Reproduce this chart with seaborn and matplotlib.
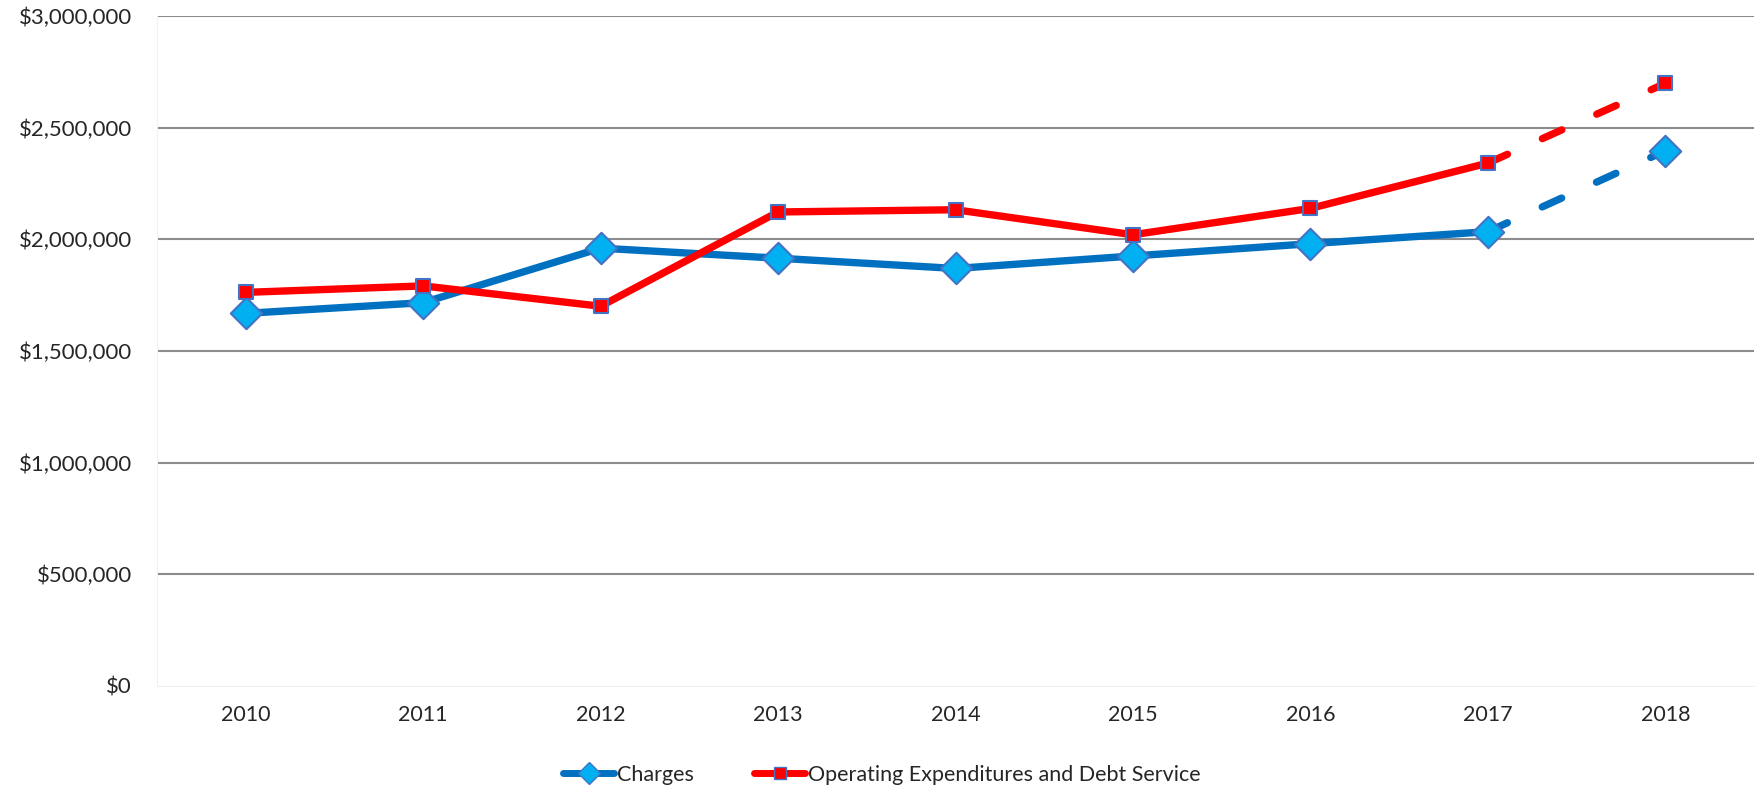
import matplotlib
matplotlib.use("Agg")
import matplotlib.pyplot as plt
from matplotlib.lines import Line2D
from matplotlib.ticker import FuncFormatter
import pandas as pd
import seaborn as sns

# data
years = [2010, 2011, 2012, 2013, 2014, 2015, 2016, 2017, 2018]
charges = [1668000, 1716000, 1960000, 1915000, 1869000, 1925000, 1980000, 2034000, 2396000]
opex = [1762000, 1791000, 1700000, 2122000, 2132000, 2020000, 2138000, 2341000, 2698000]
series_names = ["Charges", "Operating Expenditures and Debt Service"]
y_ticks = [0, 500000, 1000000, 1500000, 2000000, 2500000, 3000000]
n_actual = 8  # 2010-2017 actual, 2017-2018 projected (dashed)

blue = "#0070C0"
blue_fill = "#00B0F0"
red = "#FF0000"
edge = "#4472C4"

sns.set_style("white")
plt.rcParams["font.family"] = ["Lato", "DejaVu Sans"]

df = pd.DataFrame({"year": years, series_names[0]: charges, series_names[1]: opex})

fig, ax = plt.subplots(figsize=(17.63, 7.93), dpi=100)
fig.subplots_adjust(left=0.089, right=0.995, top=0.980, bottom=0.135)

styles = [
    (series_names[0], blue, "D", blue_fill, 16),
    (series_names[1], red, "s", red, 10.5),
]

for name, color, marker, fill, msize in styles:
    actual = df.iloc[:n_actual]
    proj = df.iloc[n_actual - 1:]
    # projected part, dashed
    sns.lineplot(data=proj, x="year", y=name, ax=ax, color=color, lw=5.3,
                 solid_capstyle="round", dash_capstyle="round", legend=False)
    ax.lines[-1].set_dashes([2.9, 5.2])
    sns.lineplot(data=actual, x="year", y=name, ax=ax, color=color, lw=5.3,
                 solid_capstyle="round", legend=False)
    sns.scatterplot(data=df, x="year", y=name, ax=ax, marker=marker, s=msize ** 2,
                    color=fill, edgecolor=edge, linewidth=1.5, zorder=5, legend=False)

ax.set_xlim(2009.5, 2018.5)
ax.set_ylim(0, 3000000)
ax.set_xticks(years)
ax.set_xticklabels([str(y) for y in years], fontsize=15.5)
ax.set_yticks(y_ticks)
ax.yaxis.set_major_formatter(FuncFormatter(lambda v, p: "${:,.0f}".format(v)))
ax.tick_params(axis="y", labelsize=16, length=0, pad=18)
ax.tick_params(axis="x", length=0, pad=14)
ax.set_xlabel("")
ax.set_ylabel("")

for v in y_ticks[1:]:
    ax.axhline(v, color="#8C8C8C", lw=1.5, zorder=0)

for side in ["top", "right"]:
    ax.spines[side].set_visible(False)
ax.spines["left"].set_color("#F0F0F0")
ax.spines["bottom"].set_color("#F0F0F0")

handles = [
    Line2D([0], [0], color=blue, lw=5, marker="D", markersize=11,
           markerfacecolor=blue_fill, markeredgecolor=edge, solid_capstyle="round"),
    Line2D([0], [0], color=red, lw=5, marker="s", markersize=9,
           markerfacecolor=red, markeredgecolor=edge, solid_capstyle="round"),
]
fig.legend(handles, series_names, loc="lower center", bbox_to_anchor=(0.5, -0.014),
           ncol=2, frameon=False, fontsize=15.5, handlelength=2.4, handletextpad=0.1,
           columnspacing=2.8)

plt.savefig("out.png", dpi=100)
